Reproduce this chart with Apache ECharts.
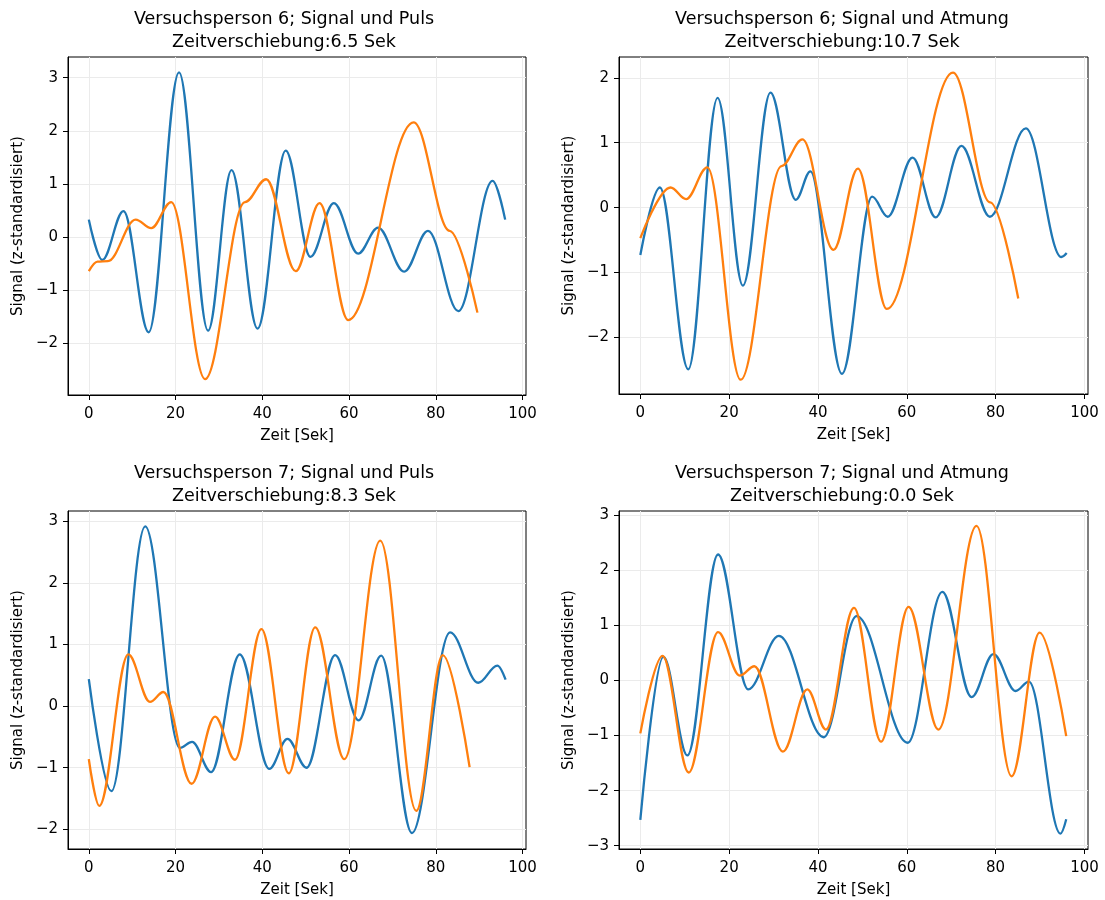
<!DOCTYPE html>
<html>
<head>
<meta charset="utf-8">
<script src="https://cdn.jsdelivr.net/npm/echarts@6/dist/echarts.min.js"></script>
<style>
html, body { margin: 0; padding: 0; background: #fff; }
#main { width: 1105px; height: 900px; }
</style>
</head>
<body>
<div id="main"></div>
<script>
// Stützpunkte (Extrema), Zeit in Sek
var xTicks = [0, 20, 40, 60, 80, 100];

// Versuchsperson 6, Signal und Puls
var vp6PulsSignalT = [0, 3.1, 8.0, 13.8, 20.8, 27.5, 32.9, 38.9, 45.4, 51.1, 56.5, 62.1, 66.7, 72.7, 78.2, 85.2, 93.1, 96.0];
var vp6PulsSignalV = [0.33, -0.43, 0.49, -1.79, 3.10, -1.76, 1.26, -1.72, 1.63, -0.37, 0.64, -0.31, 0.18, -0.65, 0.12, -1.39, 1.06, 0.33];
var vp6PulsT = [0, 2.0, 4.4, 10.8, 14.4, 19.0, 26.8, 36.0, 40.9, 47.7, 53.2, 59.8, 74.9, 83.2, 89.6];
var vp6PulsV = [-0.64, -0.46, -0.45, 0.33, 0.17, 0.66, -2.67, 0.66, 1.09, -0.64, 0.64, -1.56, 2.16, 0.12, -1.42];
var vp6PulsYTicks = [-2, -1, 0, 1, 2, 3];

// Versuchsperson 6, Signal und Atmung
var vp6AtmSignalT = [0, 4.4, 10.8, 17.4, 23.1, 29.3, 35.0, 38.3, 45.4, 52.2, 55.7, 61.3, 66.5, 72.3, 78.7, 86.8, 94.8, 96.0];
var vp6AtmSignalV = [-0.73, 0.31, -2.49, 1.69, -1.20, 1.77, 0.12, 0.56, -2.56, 0.17, -0.14, 0.77, -0.15, 0.95, -0.14, 1.22, -0.76, -0.70];
var vp6AtmT = [0, 6.8, 10.3, 15.1, 22.6, 31.8, 36.5, 43.5, 49.0, 55.5, 70.4, 78.8, 85.1];
var vp6AtmV = [-0.47, 0.31, 0.13, 0.62, -2.65, 0.64, 1.05, -0.65, 0.60, -1.56, 2.08, 0.08, -1.40];
var vp6AtmYTicks = [-2, -1, 0, 1, 2];

// Versuchsperson 7, Signal und Puls
var vp7PulsSignalT = [0, 5.2, 13.0, 21.0, 23.8, 28.2, 34.8, 41.6, 45.8, 50.2, 56.8, 62.2, 67.4, 74.5, 83.3, 89.8, 94.2, 96.1];
var vp7PulsSignalV = [0.44, -1.38, 2.92, -0.68, -0.58, -1.07, 0.84, -1.02, -0.53, -1.00, 0.83, -0.23, 0.82, -2.06, 1.20, 0.38, 0.66, 0.43];
var vp7PulsT = [0, 2.4, 9.1, 14.1, 17.2, 23.7, 29.1, 33.7, 39.8, 46.1, 52.2, 58.9, 67.2, 75.5, 81.6, 87.8];
var vp7PulsV = [-0.86, -1.62, 0.84, 0.07, 0.23, -1.26, -0.17, -0.87, 1.25, -1.09, 1.28, -0.86, 2.69, -1.70, 0.83, -0.99];
var vp7PulsYTicks = [-2, -1, 0, 1, 2, 3];

// Versuchsperson 7, Signal und Atmung
var vp7AtmSignalT = [0, 5.2, 10.6, 17.5, 24.3, 31.2, 41.3, 48.7, 60.2, 68.0, 74.6, 79.5, 84.5, 87.5, 94.6, 95.9];
var vp7AtmSignalV = [-2.53, 0.43, -1.36, 2.29, -0.16, 0.81, -1.03, 1.17, -1.13, 1.61, -0.30, 0.48, -0.19, -0.02, -2.78, -2.52];
var vp7AtmT = [0, 5.0, 10.9, 17.5, 22.4, 25.7, 32.1, 37.6, 41.8, 48.1, 54.2, 60.4, 67.1, 75.7, 83.6, 89.9, 95.9];
var vp7AtmV = [-0.96, 0.45, -1.67, 0.88, 0.09, 0.26, -1.29, -0.16, -0.89, 1.32, -1.11, 1.34, -0.89, 2.81, -1.74, 0.87, -1.01];
var vp7AtmYTicks = [-3, -2, -1, 0, 1, 2, 3];

var FONT = 'DejaVu Sans';
var BLUE = '#1f77b4';
var ORANGE = '#ff7f0e';

function pairs(t, v) {
    var out = [];
    for (var i = 0; i < t.length; i++) {
        out.push([t[i], v[i]]);
    }
    return out;
}

var panels = [
    { title: 'Versuchsperson 6; Signal und Puls\nZeitverschiebung:6.5 Sek', titleX: 284, titleY: 8,
      grid: { left: 68, top: 57, width: 458, height: 338 }, yMin: -2.97, yMax: 3.39, yTicks: vp6PulsYTicks,
      signal: pairs(vp6PulsSignalT, vp6PulsSignalV), other: pairs(vp6PulsT, vp6PulsV) },
    { title: 'Versuchsperson 6; Signal und Atmung\nZeitverschiebung:10.7 Sek', titleX: 842, titleY: 8,
      grid: { left: 619, top: 57, width: 469, height: 337 }, yMin: -2.87, yMax: 2.32, yTicks: vp6AtmYTicks,
      signal: pairs(vp6AtmSignalT, vp6AtmSignalV), other: pairs(vp6AtmT, vp6AtmV) },
    { title: 'Versuchsperson 7; Signal und Puls\nZeitverschiebung:8.3 Sek', titleX: 284, titleY: 462,
      grid: { left: 68, top: 511, width: 458, height: 338 }, yMin: -2.32, yMax: 3.17, yTicks: vp7PulsYTicks,
      signal: pairs(vp7PulsSignalT, vp7PulsSignalV), other: pairs(vp7PulsT, vp7PulsV) },
    { title: 'Versuchsperson 7; Signal und Atmung\nZeitverschiebung:0.0 Sek', titleX: 842, titleY: 462,
      grid: { left: 619, top: 511, width: 469, height: 338 }, yMin: -3.06, yMax: 3.08, yTicks: vp7AtmYTicks,
      signal: pairs(vp7AtmSignalT, vp7AtmSignalV), other: pairs(vp7AtmT, vp7AtmV) }
];

var option = {
    backgroundColor: '#fff',
    animation: false,
    title: [],
    grid: [],
    xAxis: [],
    yAxis: [],
    series: []
};

panels.forEach(function (p, i) {
    option.title.push({
        text: p.title,
        left: p.titleX,
        top: p.titleY,
        textAlign: 'center',
        padding: 0,
        textStyle: { fontFamily: FONT, fontSize: 17.5, fontWeight: 'normal', color: '#000', lineHeight: 23 }
    });
    option.grid.push({
        left: p.grid.left, top: p.grid.top, width: p.grid.width, height: p.grid.height,
        show: true, borderColor: '#000', borderWidth: 1, backgroundColor: 'transparent'
    });
    option.xAxis.push({
        type: 'value',
        gridIndex: i,
        min: -4.8,
        max: 100.8,
        name: 'Zeit [Sek]',
        nameLocation: 'middle',
        nameGap: 34,
        nameTextStyle: { fontFamily: FONT, fontSize: 15, color: '#000' },
        axisLine: { show: true, onZero: false, lineStyle: { color: '#000', width: 1 } },
        axisTick: { show: true, length: 5, customValues: xTicks, lineStyle: { color: '#000' } },
        axisLabel: { customValues: xTicks, margin: 12, fontFamily: FONT, fontSize: 15, color: '#000' },
        splitLine: { show: true, lineStyle: { color: '#ebebeb', width: 1 } }
    });
    option.yAxis.push({
        type: 'value',
        gridIndex: i,
        min: p.yMin,
        max: p.yMax,
        name: 'Signal (z-standardisiert)',
        nameLocation: 'middle',
        nameGap: 42,
        nameTextStyle: { fontFamily: FONT, fontSize: 15, color: '#000' },
        axisLine: { show: true, onZero: false, lineStyle: { color: '#000', width: 1 } },
        axisTick: { show: true, length: 5, customValues: p.yTicks, lineStyle: { color: '#000' } },
        axisLabel: {
            customValues: p.yTicks, margin: 10, fontFamily: FONT, fontSize: 15, color: '#000',
            formatter: function (v) { return String(v).replace('-', '\u2212'); }
        },
        splitLine: { show: true, lineStyle: { color: '#ebebeb', width: 1 } }
    });
    option.series.push({
        type: 'line', xAxisIndex: i, yAxisIndex: i,
        data: p.signal, showSymbol: false, smooth: 0.36, smoothMonotone: 'x',
        lineStyle: { color: BLUE, width: 2.3 }, itemStyle: { color: BLUE }, z: 2
    });
    option.series.push({
        type: 'line', xAxisIndex: i, yAxisIndex: i,
        data: p.other, showSymbol: false, smooth: 0.36, smoothMonotone: 'x',
        lineStyle: { color: ORANGE, width: 2.3 }, itemStyle: { color: ORANGE }, z: 3
    });
});

var chart = echarts.init(document.getElementById('main'));
chart.setOption(option);
</script>
</body>
</html>
